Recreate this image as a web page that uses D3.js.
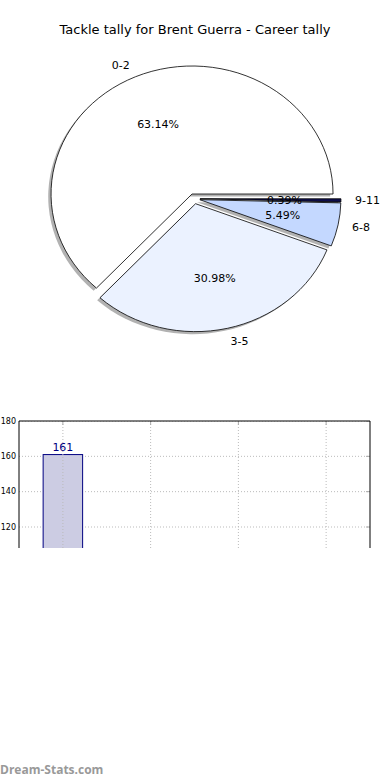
<!doctype html>
<html>
<meta charset="utf-8">
<head>
<script src="https://cdn.jsdelivr.net/npm/d3@7"></script>
<style>
  body { margin: 0; background: #fff; }
  text { font-family: "DejaVu Sans", sans-serif; }
</style>
</head>
<body>
<script>
// pie data
var groups = ["0-2", "3-5", "6-8", "9-11"];
var tallies = [161, 79, 14, 1];
var pieColors = ["#ffffff", "#ebf2ff", "#c4d8ff", "#0d0d4d"];

// bar data
var barCats = ["Career"];
var barValues = [161];
var yTicks = [120, 140, 160, 180];
var xGrid = [0, 1, 2, 3];

var width = 390, height = 780;

var svg = d3.select("body").append("svg")
  .attr("width", width)
  .attr("height", height);

svg.append("text")
  .attr("x", 195)
  .attr("y", 34)
  .attr("text-anchor", "middle")
  .style("font-size", "13px")
  .text("Tackle tally for Brent Guerra - Career tally");

// ---- pie (matplotlib style: starts at east, counter clockwise, exploded) ----
var cx = 194.3, cy = 198.7, rx = 141, ry = 128, explode = 0.04;
var total = d3.sum(tallies);

var pie = d3.pie().sort(null)
  .startAngle(Math.PI / 2)
  .endAngle(Math.PI / 2 - 2 * Math.PI);

var arcs = pie(tallies);
var arc = d3.arc().innerRadius(0).outerRadius(1);

function mid(d) { return (d.startAngle + d.endAngle) / 2; }
function px(a, r) { return Math.sin(a) * r * rx; }
function py(a, r) { return -Math.cos(a) * r * ry; }

var pieG = svg.append("g");

// shadows below all wedges
pieG.selectAll("path.shadow")
  .data(arcs)
  .enter().append("path")
  .attr("class", "shadow")
  .attr("d", arc)
  .attr("transform", function(d) {
    var a = mid(d);
    return "translate(" + (cx + px(a, explode) - 0.02 * rx) + "," + (cy + py(a, explode) + 0.02 * ry) + ") scale(" + rx + "," + ry + ")";
  })
  .attr("fill", "#666")
  .attr("fill-opacity", 0.5)
  .attr("stroke", "none");

pieG.selectAll("path.wedge")
  .data(arcs)
  .enter().append("path")
  .attr("class", "wedge")
  .attr("d", arc)
  .attr("transform", function(d) {
    var a = mid(d);
    return "translate(" + (cx + px(a, explode)) + "," + (cy + py(a, explode)) + ") scale(" + rx + "," + ry + ")";
  })
  .attr("fill", function(d, i) { return pieColors[i]; })
  .attr("stroke", "#000")
  .attr("stroke-width", 0.8)
  .attr("vector-effect", "non-scaling-stroke");

// category labels
pieG.selectAll("text.lab")
  .data(arcs)
  .enter().append("text")
  .attr("class", "lab")
  .attr("x", function(d) { var a = mid(d); return cx + px(a, explode) + px(a, 1.1); })
  .attr("y", function(d) { var a = mid(d); return cy + py(a, explode) + py(a, 1.1); })
  .attr("dy", "0.35em")
  .attr("text-anchor", function(d) { return px(mid(d), 1) < 0 ? "end" : "start"; })
  .style("font-size", "11px")
  .text(function(d, i) { return groups[i]; });

// percentage labels
pieG.selectAll("text.pct")
  .data(arcs)
  .enter().append("text")
  .attr("class", "pct")
  .attr("x", function(d) { var a = mid(d); return cx + px(a, explode) + px(a, 0.6); })
  .attr("y", function(d) { var a = mid(d); return cy + py(a, explode) + py(a, 0.6); })
  .attr("dy", "0.35em")
  .attr("text-anchor", "middle")
  .style("font-size", "11px")
  .text(function(d) { return (d.value / total * 100).toFixed(2) + "%"; });

// ---- bar chart (cut off at the bottom) ----
var axL = 19, axR = 370, axT = 421, axCut = 548;

var x = d3.scaleLinear().domain([-0.5, 3.5]).range([axL, axR]);
var y = d3.scaleLinear().domain([0, 180]).range([739, axT]);

svg.append("clipPath").attr("id", "clip")
  .append("rect")
  .attr("x", axL).attr("y", axT)
  .attr("width", axR - axL).attr("height", axCut - axT);

var plot = svg.append("g").attr("clip-path", "url(#clip)");

plot.selectAll("line.hgrid")
  .data(yTicks)
  .enter().append("line")
  .attr("x1", axL).attr("x2", axR)
  .attr("y1", function(d) { return y(d); })
  .attr("y2", function(d) { return y(d); })
  .attr("stroke", "#bbb")
  .attr("stroke-dasharray", "1,2");

plot.selectAll("rect.bar")
  .data(barValues)
  .enter().append("rect")
  .attr("class", "bar")
  .attr("x", function(d, i) { return x(i) - 0.225 * (x(1) - x(0)); })
  .attr("width", 0.45 * (x(1) - x(0)))
  .attr("y", function(d) { return y(d); })
  .attr("height", function(d) { return y(0) - y(d); })
  .attr("fill", "#ccccE3")
  .attr("stroke", "#000080")
  .attr("stroke-width", 1);

plot.selectAll("line.vgrid")
  .data(xGrid)
  .enter().append("line")
  .attr("x1", function(d) { return x(d); })
  .attr("x2", function(d) { return x(d); })
  .attr("y1", axT).attr("y2", axCut)
  .attr("stroke", "#bbb")
  .attr("stroke-dasharray", "1,2");

// small inside ticks on top and right
plot.selectAll("line.tt")
  .data(xGrid)
  .enter().append("line")
  .attr("x1", function(d) { return x(d); })
  .attr("x2", function(d) { return x(d); })
  .attr("y1", axT).attr("y2", axT + 4)
  .attr("stroke", "#aaa");

plot.selectAll("line.rt")
  .data(yTicks)
  .enter().append("line")
  .attr("x1", axR - 4).attr("x2", axR)
  .attr("y1", function(d) { return y(d); })
  .attr("y2", function(d) { return y(d); })
  .attr("stroke", "#aaa");

plot.selectAll("text.val")
  .data(barValues)
  .enter().append("text")
  .attr("x", function(d, i) { return x(i); })
  .attr("y", function(d) { return y(d) - 4; })
  .attr("text-anchor", "middle")
  .attr("fill", "#000080")
  .style("font-size", "11px")
  .text(function(d) { return d; });

// frame (bottom edge is cut off)
svg.append("path")
  .attr("d", "M" + axL + "," + axCut + "V" + axT + "H" + axR + "V" + axCut)
  .attr("fill", "none")
  .attr("stroke", "#000")
  .attr("stroke-width", 1);

svg.selectAll("text.ytick")
  .data(yTicks)
  .enter().append("text")
  .attr("x", axL - 3)
  .attr("y", function(d) { return y(d); })
  .attr("dy", "0.35em")
  .attr("text-anchor", "end")
  .style("font-size", "8px")
  .text(function(d) { return d; });

svg.append("text")
  .attr("x", 0)
  .attr("y", 774)
  .style("font-family", "'Open Sans', sans-serif")
  .style("font-weight", "bold")
  .style("font-size", "12px")
  .attr("fill", "#999")
  .text("Dream-Stats.com");
</script>
</body>
</html>
